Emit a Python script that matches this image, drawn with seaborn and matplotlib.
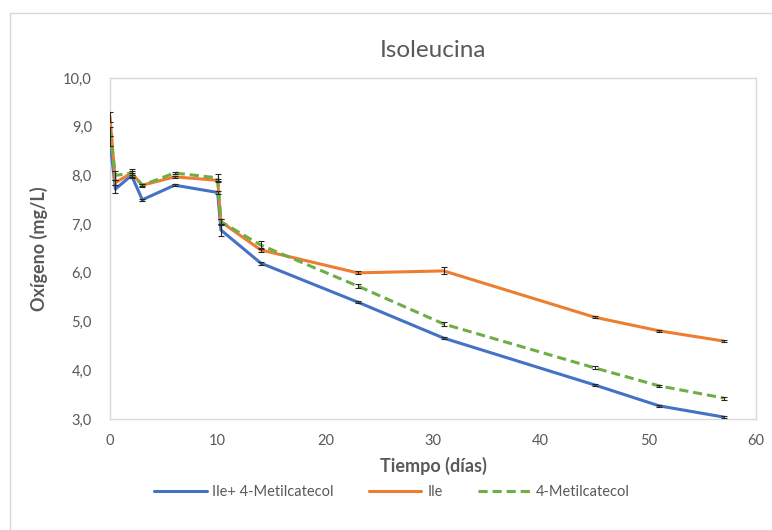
import numpy as np
import pandas as pd
import matplotlib
matplotlib.use("Agg")
import matplotlib.pyplot as plt
from matplotlib.patches import Rectangle
from matplotlib.lines import Line2D
from matplotlib.ticker import FuncFormatter
import seaborn as sns

# ---- data ----
tiempo = [0, 0.5, 2, 3, 6, 10, 10.3, 14, 23, 31, 45, 51, 57]
ile_4mc = [8.7, 7.72, 8.0, 7.5, 7.8, 7.65, 6.88, 6.2, 5.4, 4.66, 3.70, 3.27, 3.04]
ile = [9.2, 7.85, 8.05, 7.8, 7.97, 7.9, 7.05, 6.47, 6.0, 6.04, 5.09, 4.81, 4.60]
mc4 = [8.9, 8.0, 8.05, 7.8, 8.05, 7.95, 7.05, 6.57, 5.73, 4.95, 4.05, 3.68, 3.43]
err_ile_4mc = [0.1, 0.08, 0.05, 0.02, 0.02, 0.03, 0.12, 0.03, 0.02, 0.02, 0.02, 0.02, 0.02]
err_ile = [0.1, 0.05, 0.05, 0.02, 0.02, 0.03, 0.05, 0.05, 0.03, 0.07, 0.02, 0.02, 0.02]
err_mc4 = [0.1, 0.1, 0.08, 0.03, 0.02, 0.07, 0.06, 0.08, 0.04, 0.04, 0.03, 0.02, 0.03]
series_names = ["Ile+ 4-Metilcatecol", "Ile", "4-Metilcatecol"]
title = "Isoleucina"
xlabel = "Tiempo (días)"
ylabel = "Oxígeno (mg/L)"

colors = ["#4472C4", "#ED7D31", "#70AD47"]
styles = ["-", "-", (0, (3, 1.6))]
txt = "#595959"
grid_c = "#D9D9D9"

sns.set_theme(style="white")
plt.rcParams["font.family"] = ["Lato", "DejaVu Sans"]

fig = plt.figure(figsize=(7.72, 5.30), dpi=100)
ax = fig.add_axes([110/772, 1-419/530, (756-110)/772, (419-78)/530])

all_vals = [ile_4mc, ile, mc4]
all_errs = [err_ile_4mc, err_ile, err_mc4]
frames = []
for name, vals in zip(series_names, all_vals):
    frames.append(pd.DataFrame({"t": tiempo, "v": vals, "serie": name}))
df = pd.concat(frames, ignore_index=True)

for name, c, ls in zip(series_names, colors, styles):
    sub = df[df.serie == name]
    sns.lineplot(data=sub, x="t", y="v", ax=ax, color=c, linewidth=2.2,
                 linestyle=ls, legend=False, sort=False, zorder=3)

for vals, errs in zip(all_vals, all_errs):
    ax.errorbar(tiempo, vals, yerr=errs, fmt="none", ecolor="#262626",
                elinewidth=0.8, capsize=2.5, capthick=0.8, zorder=5)

ax.set_xlim(0, 60)
ax.set_ylim(3, 10)
ax.set_xticks(np.arange(0, 61, 10))
ax.set_yticks(np.arange(3, 10.01, 1))
ax.yaxis.set_major_formatter(FuncFormatter(lambda v, p: f"{v:.1f}".replace(".", ",")))
ax.tick_params(axis="both", length=0, labelsize=10.5, labelcolor=txt)
ax.tick_params(axis="y", pad=13)
ax.tick_params(axis="x", pad=11)
for s in ax.spines.values():
    s.set_color(grid_c)
    s.set_linewidth(1.0)

ax.set_title(title, fontsize=17.5, color=txt, pad=15)
ax.set_xlabel(xlabel, fontsize=13, fontweight="bold", color=txt, labelpad=6)
ax.set_ylabel(ylabel, fontsize=13, fontweight="bold", color=txt, labelpad=11)

handles = [Line2D([0], [0], color=c, lw=2.2, linestyle=ls) for c, ls in zip(colors, styles)]
fig.legend(handles, series_names, loc="center", bbox_to_anchor=(392/772, 1-492/530),
           ncol=3, frameon=False, fontsize=10.5, labelcolor=txt, handlelength=3.6,
           columnspacing=2.4, handletextpad=0.4)

fig.patches.append(Rectangle((10/772, -0.02), 1.05, 1-13/530+0.02, transform=fig.transFigure,
                             fill=False, edgecolor=grid_c, linewidth=1.0, clip_on=False))

fig.savefig("out.png", dpi=100)
